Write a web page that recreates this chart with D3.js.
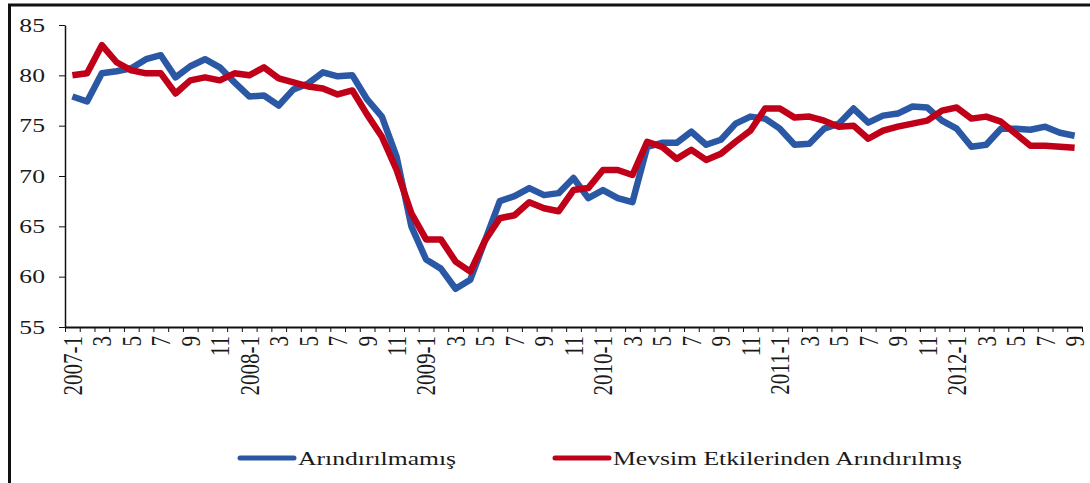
<!DOCTYPE html>
<html>
<head>
<meta charset="utf-8">
<script src="https://cdnjs.cloudflare.com/ajax/libs/d3/7.8.5/d3.min.js"></script>
<style>
  body { margin: 0; background: #fff; }
  svg { display: block; }
  text { font-family: "Liberation Serif", "Times New Roman", serif; fill: #1a1a1a; }
</style>
</head>
<body>
<div id="chart"></div>
<script>
// months 2007-1 .. 2012-9
var categories = [
  "2007-1","2","3","4","5","6","7","8","9","10","11","12",
  "2008-1","2","3","4","5","6","7","8","9","10","11","12",
  "2009-1","2","3","4","5","6","7","8","9","10","11","12",
  "2010-1","2","3","4","5","6","7","8","9","10","11","12",
  "2011-1","2","3","4","5","6","7","8","9","10","11","12",
  "2012-1","2","3","4","5","6","7","8","9"
];

var raw = [
  77.9, 77.4, 80.2, 80.4, 80.7, 81.6, 82.0, 79.8, 80.9, 81.6, 80.8, 79.3,
  77.9, 78.0, 77.0, 78.6, 79.2, 80.3, 79.9, 80.0, 77.6, 75.9, 71.9, 65.0,
  61.7, 60.8, 58.8, 59.7, 63.6, 67.5, 68.0, 68.8, 68.1, 68.3, 69.8, 67.8,
  68.6, 67.8, 67.4, 72.9, 73.3, 73.3, 74.4, 73.1, 73.6, 75.2, 75.9, 75.7,
  74.7, 73.1, 73.2, 74.7, 75.2, 76.7, 75.3, 76.0, 76.2, 76.9, 76.8, 75.5,
  74.7, 72.9, 73.1, 74.7, 74.7, 74.6, 74.9, 74.3, 74.0
];

var seasonal = [
  80.0, 80.2, 83.0, 81.3, 80.5, 80.2, 80.2, 78.2, 79.5, 79.8, 79.5, 80.2,
  80.0, 80.8, 79.7, 79.3, 78.9, 78.7, 78.1, 78.5, 76.1, 73.9, 70.6, 66.3,
  63.7, 63.7, 61.5, 60.5, 63.6, 65.8, 66.1, 67.4, 66.8, 66.5, 68.6, 68.8,
  70.6, 70.6, 70.1, 73.4, 72.9, 71.7, 72.6, 71.6, 72.2, 73.4, 74.5, 76.7,
  76.7, 75.8, 75.9, 75.5, 74.9, 75.0, 73.7, 74.5, 74.9, 75.2, 75.5, 76.5,
  76.8, 75.7, 75.9, 75.4, 74.2, 73.0, 73.0, 72.9, 72.8
];

var yTicks = [55, 60, 65, 70, 75, 80, 85];
var seriesNames = ["Arındırılmamış", "Mevsim Etkilerinden Arındırılmış"];
var seriesColors = ["#2b58a4", "#c00018"];

var width = 1090, height = 483;
var plotLeft = 65, plotRight = 1082, plotTop = 25, plotBottom = 327;
var stretch = 1.35;   // the reference text is wider than it is tall

var svg = d3.select("#chart").append("svg")
    .attr("width", width)
    .attr("height", height);

// frame (top and left edges only)
svg.append("line").attr("x1", 8).attr("x2", width).attr("y1", 5).attr("y2", 5)
    .attr("stroke", "#111").attr("stroke-width", 3);
svg.append("line").attr("x1", 9.5).attr("x2", 9.5).attr("y1", 4).attr("y2", height)
    .attr("stroke", "#111").attr("stroke-width", 3);

var x = d3.scaleBand()
    .domain(d3.range(categories.length))
    .range([plotLeft, plotRight]);

// tick marks sit on the category edges
var xEdges = d3.scaleLinear()
    .domain([0, categories.length])
    .range([plotLeft, plotRight]);

var y = d3.scaleLinear()
    .domain([55, 85])
    .range([plotBottom, plotTop]);

// y axis
var yAxis = svg.append("g")
    .attr("transform", "translate(" + plotLeft + ",0)")
    .call(d3.axisLeft(y).tickValues(yTicks).tickSize(6).tickFormat("").tickSizeOuter(0));
yAxis.select(".domain").attr("stroke", "#111").attr("stroke-width", 1.5);
yAxis.selectAll(".tick line").attr("stroke", "#111");

svg.append("g").selectAll("text")
    .data(yTicks)
  .enter().append("text")
    .attr("transform", function(d) { return "translate(45," + (y(d) + 6.5) + ") scale(" + stretch + ",1)"; })
    .attr("text-anchor", "end")
    .style("font-size", "19px")
    .text(function(d) { return d; });

// x axis
var xAxis = svg.append("g")
    .attr("transform", "translate(0," + plotBottom + ")")
    .call(d3.axisBottom(xEdges).tickValues(d3.range(categories.length + 1)).tickSize(5).tickFormat("").tickSizeOuter(0));
xAxis.select(".domain").attr("stroke", "#111").attr("stroke-width", 2);
xAxis.selectAll(".tick line").attr("stroke", "#111");

var xl = svg.append("g");
categories.forEach(function(d, i) {
  if (i % 2 !== 0) return;
  xl.append("text")
    .attr("transform", "translate(" + (x(i) + x.bandwidth() / 2) + ",336) scale(" + stretch + ",1) rotate(-90)")
    .attr("text-anchor", "end")
    .attr("dy", "0.33em")
    .style("font-size", "21px")
    .text(d);
});

// lines
var line = d3.line()
    .x(function(d, i) { return x(i) + x.bandwidth() / 2; })
    .y(function(d) { return y(d); });

[raw, seasonal].forEach(function(s, k) {
  svg.append("path")
      .datum(s)
      .attr("fill", "none")
      .attr("stroke", seriesColors[k])
      .attr("stroke-width", 6.5)
      .attr("stroke-linejoin", "round")
      .attr("d", line);
});

// legend
var legendX = [240, 555];
seriesNames.forEach(function(name, k) {
  var g = svg.append("g").attr("transform", "translate(" + legendX[k] + ",458)");
  g.append("line")
      .attr("x1", 0).attr("x2", 54)
      .attr("stroke", seriesColors[k])
      .attr("stroke-width", 5)
      .attr("stroke-linecap", "round");
  g.append("text")
      .attr("transform", "translate(58,7) scale(" + stretch + ",1)")
      .style("font-size", "19px")
      .text(name);
});
</script>
</body>
</html>
